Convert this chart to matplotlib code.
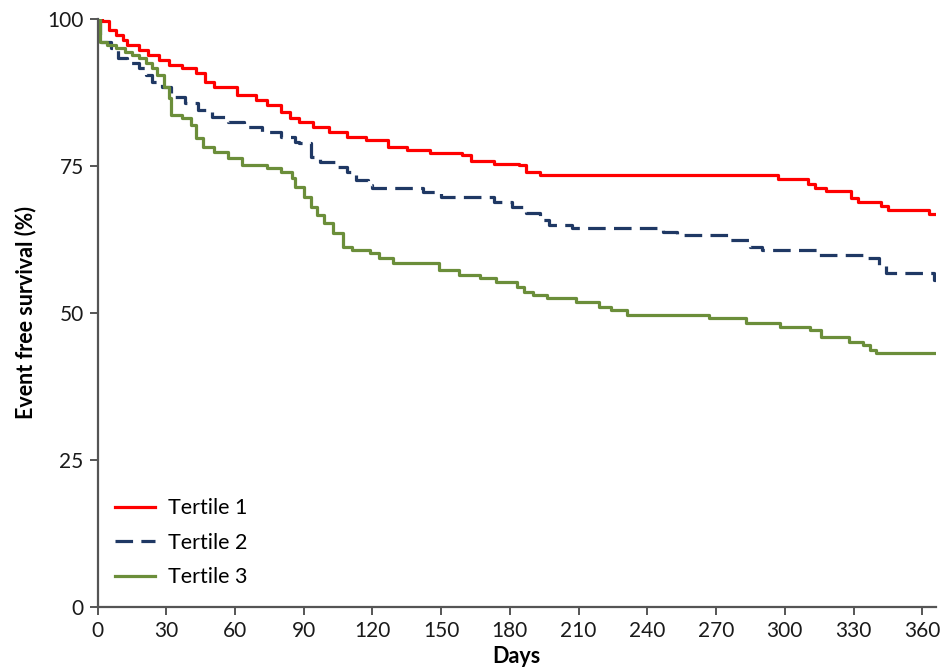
"""
KM curves by tertile, event free survival over 1 year
"""

import matplotlib
matplotlib.use("Agg")

import matplotlib.pyplot as plt

plt.rcParams["font.family"] = ["Lato", "DejaVu Sans"]

# ── data (day, survival %) ───────────────────────────────────────
t1_days = [0, 2, 5, 8, 11, 13, 18, 22, 27, 31, 37, 43, 47, 51, 61, 69, 74, 80,
           84, 88, 94, 101, 109, 117, 127, 135, 145, 159, 163, 173, 184, 187,
           193, 297, 310, 313, 318, 329, 332, 342, 345, 363, 366]
t1_surv = [100, 99.6, 98.1, 97.3, 96.4, 95.6, 94.7, 93.9, 93.0, 92.2, 91.7, 90.8,
           89.3, 88.5, 87.1, 86.3, 85.4, 84.2, 83.2, 82.5, 81.6, 80.8, 79.9, 79.4,
           78.2, 77.7, 77.2, 76.8, 75.9, 75.4, 75.1, 74.0, 73.4, 72.7, 72.0, 71.3,
           70.7, 69.5, 68.8, 68.2, 67.5, 66.8, 66.8]

t2_days = [0, 1, 6, 9, 13, 18, 21, 24, 28, 32, 38, 44, 50, 57, 64, 72, 80, 86,
           88, 93, 97, 104, 109, 113, 118, 120, 142, 150, 173, 181, 187, 193, 197,
           207, 247, 253, 276, 285, 290, 315, 336, 341, 344, 365, 366]
t2_surv = [100, 96.1, 95.1, 93.4, 92.5, 91.7, 90.5, 89.3, 88.4, 86.8, 85.7, 84.5,
           83.3, 82.5, 81.6, 80.8, 79.9, 79.1, 78.9, 76.5, 75.7, 74.8, 74.0, 72.6,
           71.7, 71.2, 70.6, 69.7, 68.9, 68.0, 67.0, 65.8, 64.9, 64.4, 63.8, 63.2,
           62.4, 61.2, 60.7, 59.8, 59.3, 58.1, 56.8, 55.6, 55.6]

t3_days = [0, 1, 4, 8, 12, 15, 18, 21, 24, 26, 29, 31, 32, 37, 41, 43, 46, 51,
           57, 63, 74, 80, 85, 86, 90, 93, 96, 99, 103, 107, 111, 119, 123, 129,
           149, 158, 167, 174, 183, 186, 190, 196, 209, 219, 224, 231, 267, 283,
           298, 311, 316, 328, 334, 337, 340, 366]
t3_surv = [100, 96.1, 95.6, 95.1, 94.4, 93.9, 93.4, 92.5, 91.7, 90.5, 88.5, 86.6,
           83.7, 83.1, 82.0, 79.8, 78.2, 77.4, 76.4, 75.2, 74.7, 74.0, 73.0, 71.4,
           69.7, 68.0, 66.6, 65.3, 63.6, 61.2, 60.7, 60.2, 59.3, 58.5, 57.3, 56.4,
           55.9, 55.2, 54.4, 53.5, 53.0, 52.5, 51.8, 51.0, 50.5, 49.6, 49.1, 48.3,
           47.6, 47.1, 45.9, 45.0, 44.5, 43.7, 43.2, 43.2]

x_ticks = [0, 30, 60, 90, 120, 150, 180, 210, 240, 270, 300, 330, 360]
y_ticks = [0, 25, 50, 75, 100]

fig = plt.figure(figsize=(9.44, 6.71), dpi=100)
ax = fig.add_axes([0.1033, 0.0958, 0.8882, 0.8758])

axis_col = "#555555"

ax.step(t1_days, t1_surv, where="post", color="#ff0000", linewidth=2.3,
        label="Tertile 1")
ax.step(t2_days, t2_surv, where="post", color="#1f3864", linewidth=2.3,
        linestyle=(0, (5.5, 2.6)), label="Tertile 2")
ax.step(t3_days, t3_surv, where="post", color="#6b8e3a", linewidth=2.3,
        label="Tertile 3")

ax.set_xlim(0, 366)
ax.set_ylim(0, 100)
ax.set_xticks(x_ticks)
ax.set_yticks(y_ticks)

for s in ["top", "right"]:
    ax.spines[s].set_visible(False)
for s in ["left", "bottom"]:
    ax.spines[s].set_color(axis_col)
    ax.spines[s].set_linewidth(1.6)

ax.tick_params(axis="both", direction="out", length=6, width=1.4,
               color=axis_col, labelsize=15, labelcolor="#1a1a1a", pad=4)

ax.set_xlabel("Days", fontsize=15.5, fontweight="bold", labelpad=4)
ax.set_ylabel("Event free survival (%)", fontsize=15.5, fontweight="bold",
              labelpad=8)

ax.legend(loc="lower left", bbox_to_anchor=(-0.002, 0.0), frameon=False,
          fontsize=15.5, handlelength=1.86, handletextpad=0.6,
          labelspacing=0.67)

plt.savefig("out.png", dpi=100, facecolor="white")
plt.close(fig)
